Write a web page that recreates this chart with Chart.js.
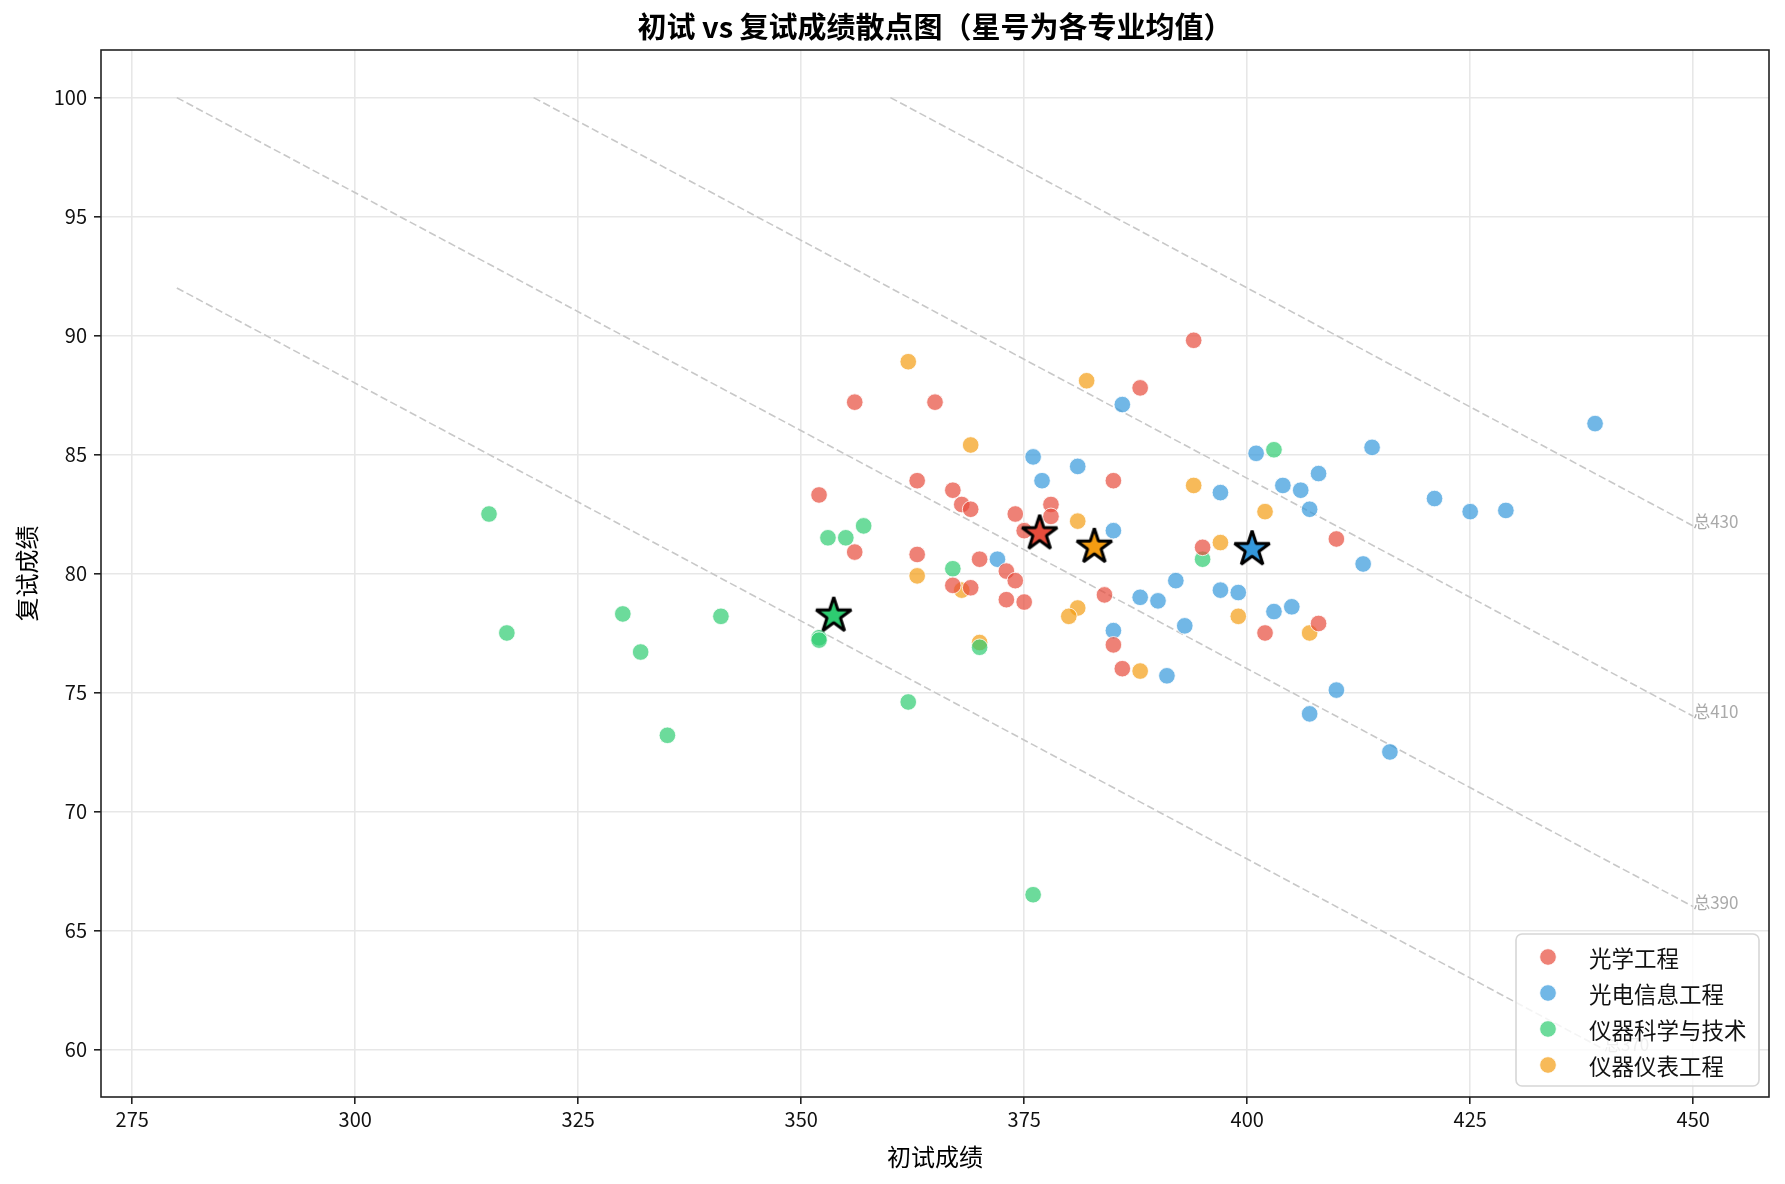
<!DOCTYPE html>
<html>
<head>
<meta charset="utf-8">
<script src="https://cdn.jsdelivr.net/npm/chart.js@4.4.1/dist/chart.umd.min.js"></script>
<style>
html, body { margin: 0; padding: 0; background: #fff; }
</style>
</head>
<body>
<canvas id="chart" width="1785" height="1184"></canvas>
<script>
// 各专业 初试 / 复试 成绩
const majors = ['光学工程', '光电信息工程', '仪器科学与技术', '仪器仪表工程'];
const colors = ['#e74c3c', '#3498db', '#2ecc71', '#f39c12'];

const optX = [352, 356, 356, 363, 363, 365, 367, 368, 369, 374, 378, 378, 375, 385, 388,
              394, 370, 373, 374, 367, 369, 373, 375, 384, 385, 386, 395, 402, 408, 410];
const optY = [83.3, 87.2, 80.9, 83.9, 80.8, 87.2, 83.5, 82.9, 82.7, 82.5, 82.9, 82.4, 81.8, 83.9, 87.8,
              89.8, 80.6, 80.1, 79.7, 79.5, 79.4, 78.9, 78.8, 79.1, 77.0, 76.0, 81.1, 77.5, 77.9, 81.45];

const oeiX = [376, 377, 381, 385, 372, 386, 388, 390, 392, 397, 399, 385, 391, 393, 397, 401,
              404, 406, 408, 407, 414, 413, 403, 405, 410, 407, 416, 421, 425, 429, 439];
const oeiY = [84.9, 83.9, 84.5, 81.8, 80.6, 87.1, 79.0, 78.85, 79.7, 79.3, 79.2, 77.6, 75.7, 77.8, 83.4, 85.05,
              83.7, 83.5, 84.2, 82.7, 85.3, 80.4, 78.4, 78.6, 75.1, 74.1, 72.5, 83.15, 82.6, 82.65, 86.3];

const instX = [315, 317, 330, 332, 335, 341, 352, 352, 353, 355, 357, 362, 367, 370, 376, 395, 403];
const instY = [82.5, 77.5, 78.3, 76.7, 73.2, 78.2, 77.3, 77.2, 81.5, 81.5, 82.0, 74.6, 80.2, 76.9, 66.5, 80.6, 85.2];

const meterX = [362, 363, 369, 382, 381, 394, 402, 397, 368, 381, 380, 399, 370, 388, 407];
const meterY = [88.9, 79.9, 85.4, 88.1, 82.2, 83.7, 82.6, 81.3, 79.3, 78.55, 78.2, 78.2, 77.1, 75.9, 77.5];

// 总分参考线: 0.5*初试 + 2.5*复试
const totals = [370, 390, 410, 430];
const xTicks = [275, 300, 325, 350, 375, 400, 425, 450];
const yTicks = [60, 65, 70, 75, 80, 85, 90, 95, 100];

const groupsX = [optX, oeiX, instX, meterX];
const groupsY = [optY, oeiY, instY, meterY];

const FONT = "'Noto Sans CJK SC', 'Noto Sans', sans-serif";
Chart.defaults.font.family = FONT;

function alpha(hex, a) {
    const n = parseInt(hex.slice(1), 16);
    return 'rgba(' + (n >> 16) + ',' + ((n >> 8) & 255) + ',' + (n & 255) + ',' + a + ')';
}

function mean(arr) {
    return arr.reduce((s, v) => s + v, 0) / arr.length;
}

function starImage(color) {
    const c = document.createElement('canvas');
    c.width = 48; c.height = 48;
    const g = c.getContext('2d');
    const R = 18.5, r = R * 0.381966;
    g.beginPath();
    for (let i = 0; i < 10; i++) {
        const a = -Math.PI / 2 + i * Math.PI / 5;
        const rad = i % 2 ? r : R;
        g.lineTo(24 + rad * Math.cos(a), 24 + rad * Math.sin(a));
    }
    g.closePath();
    g.fillStyle = color;
    g.fill();
    g.lineWidth = 3;
    g.lineJoin = 'bevel';
    g.strokeStyle = '#000';
    g.stroke();
    return c;
}

const datasets = [];

// reference lines (clipped to 复试 60..100, 初试 280..450)
totals.forEach(t => {
    const x0 = Math.max(280, (t - 250) * 2);
    const x1 = Math.min(450, (t - 150) * 2);
    datasets.push({
        type: 'line',
        label: '总' + t,
        data: [{x: x0, y: (t - 0.5 * x0) / 2.5}, {x: x1, y: (t - 0.5 * x1) / 2.5}],
        borderColor: '#c8c8c8',
        borderWidth: 1.6,
        borderDash: [7.5, 3.5],
        pointRadius: 0,
        fill: false,
        order: 10,
        isRef: true
    });
});

majors.forEach((m, i) => {
    datasets.push({
        label: m,
        data: groupsX[i].map((x, k) => ({x: x, y: groupsY[i][k]})),
        backgroundColor: alpha(colors[i], 0.7),
        borderColor: 'rgba(255,255,255,0.8)',
        borderWidth: 1,
        pointRadius: 8.3,
        order: 5,
        isMajor: true
    });
});

datasets.push({
    label: 'means',
    data: majors.map((m, i) => ({x: mean(groupsX[i]), y: mean(groupsY[i])})),
    pointStyle: colors.map(c => starImage(c)),
    pointRadius: 20,
    order: 0
});

const custom = {
    id: 'custom',
    afterDatasetsDraw(chart) {
        const ctx = chart.ctx, xs = chart.scales.x, ys = chart.scales.y;
        ctx.save();
        ctx.fillStyle = '#aaaaaa';
        ctx.font = '17px ' + FONT;
        ctx.textAlign = 'left';
        ctx.textBaseline = 'alphabetic';
        chart.data.datasets.forEach(ds => {
            if (!ds.isRef) return;
            const p = ds.data[ds.data.length - 1];
            ctx.fillText(ds.label, xs.getPixelForValue(p.x), ys.getPixelForValue(p.y) + 2);
        });
        ctx.restore();
    },
    afterDraw(chart) {
        const ctx = chart.ctx, a = chart.chartArea, xs = chart.scales.x;
        ctx.save();
        // frame
        ctx.strokeStyle = '#222';
        ctx.lineWidth = 1.6;
        ctx.strokeRect(a.left, a.top, a.right - a.left, a.bottom - a.top);

        // x tick labels
        ctx.fillStyle = '#111';
        ctx.textAlign = 'center';
        ctx.textBaseline = 'middle';
        ctx.font = '20px ' + FONT;
        xTicks.forEach(v => ctx.fillText(String(v), xs.getPixelForValue(v), a.bottom + 22));

        // title
        ctx.fillStyle = '#000';
        ctx.font = 'bold 29px ' + FONT;
        ctx.fillText('初试 vs 复试成绩散点图（星号为各专业均值）', (a.left + a.right) / 2, 27);

        // axis titles
        ctx.font = '24px ' + FONT;
        ctx.fillText('初试成绩', (a.left + a.right) / 2, 1157);
        ctx.save();
        ctx.translate(27, (a.top + a.bottom) / 2);
        ctx.rotate(-Math.PI / 2);
        ctx.fillText('复试成绩', 0, 0);
        ctx.restore();

        // legend
        const items = chart.data.datasets.filter(d => d.isMajor);
        const w = 243, h = 152;
        const lx = a.right - 10 - w, ly = a.bottom - 11 - h;
        ctx.beginPath();
        ctx.roundRect(lx, ly, w, h, 6);
        ctx.fillStyle = 'rgba(255,255,255,0.8)';
        ctx.fill();
        ctx.strokeStyle = '#d6d6d6';
        ctx.lineWidth = 1.6;
        ctx.stroke();
        ctx.font = '22.5px ' + FONT;
        ctx.textAlign = 'left';
        items.forEach((d, i) => {
            const cy = ly + 23 + i * 36;
            ctx.beginPath();
            ctx.arc(lx + 32, cy, 8.3, 0, Math.PI * 2);
            ctx.fillStyle = d.backgroundColor;
            ctx.fill();
            ctx.strokeStyle = 'rgba(255,255,255,0.8)';
            ctx.lineWidth = 1;
            ctx.stroke();
            ctx.fillStyle = '#111';
            ctx.fillText(d.label, lx + 73, cy + 1);
        });
        ctx.restore();
    }
};

new Chart(document.getElementById('chart'), {
    type: 'scatter',
    data: {datasets: datasets},
    options: {
        responsive: false,
        animation: false,
        devicePixelRatio: 1,
        layout: {autoPadding: false, padding: {top: 50, right: 16, left: 0, bottom: 0}},
        plugins: {
            legend: {display: false},
            tooltip: {enabled: false},
            title: {display: false}
        },
        scales: {
            x: {
                type: 'linear',
                min: 271.5,
                max: 458.5,
                afterBuildTicks: s => { s.ticks = xTicks.map(v => ({value: v})); },
                afterFit: s => { s.height = 87; },
                ticks: {display: false},
                grid: {color: '#e7e7e7', lineWidth: 1.6, tickColor: '#222', tickLength: 7, tickWidth: 1.6},
                border: {display: false}
            },
            y: {
                type: 'linear',
                min: 58,
                max: 102,
                afterBuildTicks: s => { s.ticks = yTicks.map(v => ({value: v})); },
                afterFit: s => { s.width = 101; },
                ticks: {font: {size: 20}, color: '#111', padding: 7},
                grid: {color: '#e7e7e7', lineWidth: 1.6, tickColor: '#222', tickLength: 7, tickWidth: 1.6},
                border: {display: false}
            }
        }
    },
    plugins: [custom]
});
</script>
</body>
</html>
